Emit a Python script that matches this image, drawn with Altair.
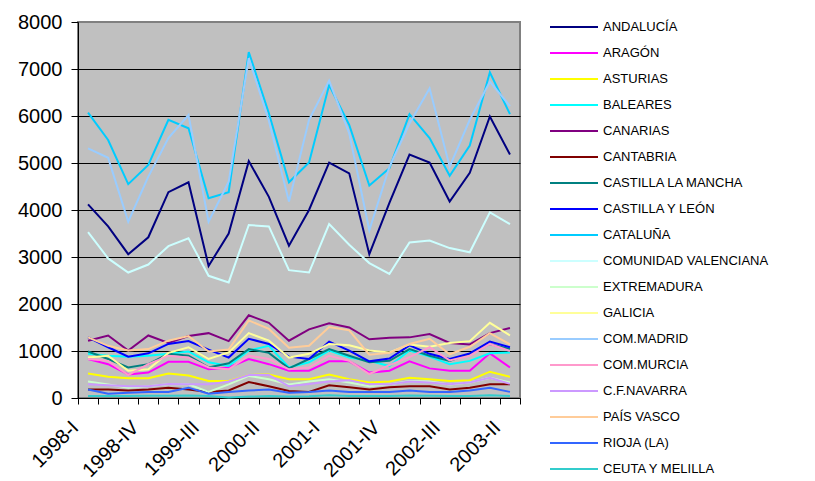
import json
import altair as alt
import pandas as pd

quarters = ["1998-I", "1998-II", "1998-III", "1998-IV",
            "1999-I", "1999-II", "1999-III", "1999-IV",
            "2000-I", "2000-II", "2000-III", "2000-IV",
            "2001-I", "2001-II", "2001-III", "2001-IV",
            "2002-I", "2002-II", "2002-III", "2002-IV",
            "2003-I", "2003-II"]

series_names = ["ANDALUCÍA", "ARAGÓN", "ASTURIAS", "BALEARES", "CANARIAS",
                "CANTABRIA", "CASTILLA LA MANCHA", "CASTILLA Y LEÓN", "CATALUÑA",
                "COMUNIDAD VALENCIANA", "EXTREMADURA", "GALICIA", "COM.MADRID",
                "COM.MURCIA", "C.F.NAVARRA", "PAÍS VASCO", "RIOJA (LA)",
                "CEUTA Y MELILLA"]

series_colors = ["#000080", "#FF00FF", "#FFFF00", "#00FFFF", "#800080",
                 "#800000", "#008080", "#0000FF", "#00CCFF", "#CCFFFF",
                 "#CCFFCC", "#FFFF99", "#99CCFF", "#FF99CC", "#CC99FF",
                 "#FFCC99", "#3366FF", "#33CCCC"]

andalucia = [4120, 3650, 3060, 3420, 4380, 4590, 2810, 3500, 5040, 4280, 3240,
             4000, 5010, 4780, 3060, 4150, 5180, 5010, 4180, 4790, 5990, 5180]
aragon = [830, 720, 500, 540, 770, 770, 610, 650, 830, 720, 580,
          580, 780, 780, 540, 580, 780, 630, 580, 580, 950, 650]
asturias = [520, 450, 420, 420, 520, 480, 360, 360, 490, 500, 400,
            400, 500, 400, 330, 350, 430, 400, 360, 380, 560, 450]
baleares = [940, 900, 880, 900, 940, 990, 760, 680, 1010, 1110, 650,
            760, 1010, 860, 790, 680, 1010, 880, 720, 790, 950, 970]
canarias = [1220, 1330, 1010, 1330, 1170, 1320, 1380, 1210, 1760, 1600, 1220,
            1460, 1590, 1500, 1250, 1280, 1290, 1360, 1170, 1140, 1380, 1490]
cantabria = [180, 180, 160, 180, 220, 180, 130, 160, 340, 250, 150,
             130, 270, 230, 180, 230, 250, 250, 180, 220, 290, 290]
castilla_lm = [990, 830, 650, 720, 940, 900, 650, 740, 1040, 960, 630,
               830, 1040, 900, 760, 790, 1040, 900, 790, 940, 1150, 1040]
castilla_leon = [1290, 1080, 880, 950, 1150, 1210, 1030, 860, 1260, 1150, 880,
                 830, 1200, 1010, 780, 840, 1120, 940, 830, 950, 1200, 1080]
cataluna = [6070, 5490, 4550, 4960, 5920, 5740, 4250, 4380, 7360, 6060, 4590,
            5010, 6660, 5810, 4520, 4890, 6040, 5530, 4730, 5370, 6930, 6040]
valenciana = [3530, 2970, 2670, 2840, 3230, 3400, 2600, 2460, 3680, 3650, 2720,
              2670, 3700, 3260, 2870, 2640, 3310, 3350, 3190, 3100, 3950, 3700]
extremadura = [350, 290, 220, 250, 290, 290, 130, 290, 470, 400, 290,
               350, 400, 330, 250, 290, 360, 350, 290, 330, 430, 330]
galicia = [860, 900, 580, 610, 960, 1080, 830, 970, 1380, 1220, 860,
           940, 1150, 1120, 1010, 970, 1140, 1090, 1170, 1210, 1600, 1330]
madrid = [5310, 5110, 3750, 4710, 5530, 6020, 3750, 4600, 7230, 5900, 4180,
          5920, 6750, 5630, 3570, 4920, 5840, 6590, 4920, 5920, 6730, 6210]
murcia = [830, 790, 490, 720, 900, 860, 650, 610, 900, 830, 610,
          650, 900, 790, 510, 700, 870, 1080, 800, 900, 1150, 1000]
navarra = [290, 270, 250, 250, 300, 290, 290, 350, 490, 490, 250,
           300, 350, 380, 290, 290, 350, 330, 290, 330, 430, 300]
pais_vasco = [1290, 1110, 1010, 1040, 1220, 1320, 990, 1030, 1650, 1470, 1070,
              1110, 1510, 1440, 920, 960, 1150, 1260, 930, 1090, 1380, 1140]
rioja = [180, 90, 110, 130, 130, 220, 90, 130, 160, 180, 110,
         130, 160, 130, 130, 130, 160, 130, 130, 160, 220, 130]
ceuta = [45, 40, 45, 50, 50, 55, 40, 10, 30, 40, 30,
         35, 60, 45, 40, 45, 55, 50, 45, 45, 60, 40]

series_values = [andalucia, aragon, asturias, baleares, canarias, cantabria,
                 castilla_lm, castilla_leon, cataluna, valenciana, extremadura,
                 galicia, madrid, murcia, navarra, pais_vasco, rioja, ceuta]

y_ticks = [0, 1000, 2000, 3000, 4000, 5000, 6000, 7000, 8000]
label_quarters = quarters[::3]

rows = []
for name, vals in zip(series_names, series_values):
    for q, v in zip(quarters, vals):
        rows.append({"quarter": q, "region": name, "value": v})
df = pd.DataFrame(rows)

label_expr = ("indexof(" + json.dumps(label_quarters) +
              ", datum.value) >= 0 ? datum.label : ''")

x = alt.X(
    "quarter:N", sort=quarters, bandPosition=0.5,
    scale=alt.Scale(type="band", paddingInner=0, paddingOuter=0),
    axis=alt.Axis(title=None, tickBand="extent", labelAngle=-45,
                  labelExpr=label_expr, labelOverlap=False,
                  labelFont="Liberation Sans", labelFontSize=20,
                  labelColor="black", labelAlign="right",
                  labelBaseline="middle", labelPadding=20, labelOffset=-13,
                  tickColor="black", tickSize=6, domainColor="black",
                  grid=False),
)
y = alt.Y(
    "value:Q",
    scale=alt.Scale(domain=[0, 8000], nice=False),
    axis=alt.Axis(title=None, values=y_ticks, format="d", grid=True,
                  gridColor={"condition": {"test": "datum.value >= 8000",
                                           "value": "#808080"},
                             "value": "black"},
                  gridWidth=1, labelFont="Liberation Sans", labelFontSize=20,
                  labelColor="black", labelPadding=9, tickColor="black",
                  tickSize=7, domainColor="black"),
)
color = alt.Color(
    "region:N", sort=series_names,
    scale=alt.Scale(domain=series_names, range=series_colors),
    legend=alt.Legend(title=None, orient="none", legendX=471, legendY=-7,
                      symbolType="stroke", symbolSize=2304,
                      symbolStrokeWidth=2, labelFont="Liberation Sans",
                      labelFontSize=13, labelColor="black", clipHeight=24,
                      rowPadding=2, padding=0, labelOffset=4, labelLimit=300),
)

chart = (
    alt.Chart(df)
    .mark_line(strokeWidth=2)
    .encode(x=x, y=y, color=color)
    .properties(width=442, height=376,
                padding={"left": 70, "top": 14, "right": 287, "bottom": 83},
                autosize=alt.AutoSizeParams(type="none"),
                background="white")
    .configure_view(fill="#C0C0C0", stroke="#808080", strokeWidth=2)
)

chart.save("out.html", embed_options={"renderer": "svg", "actions": False})
